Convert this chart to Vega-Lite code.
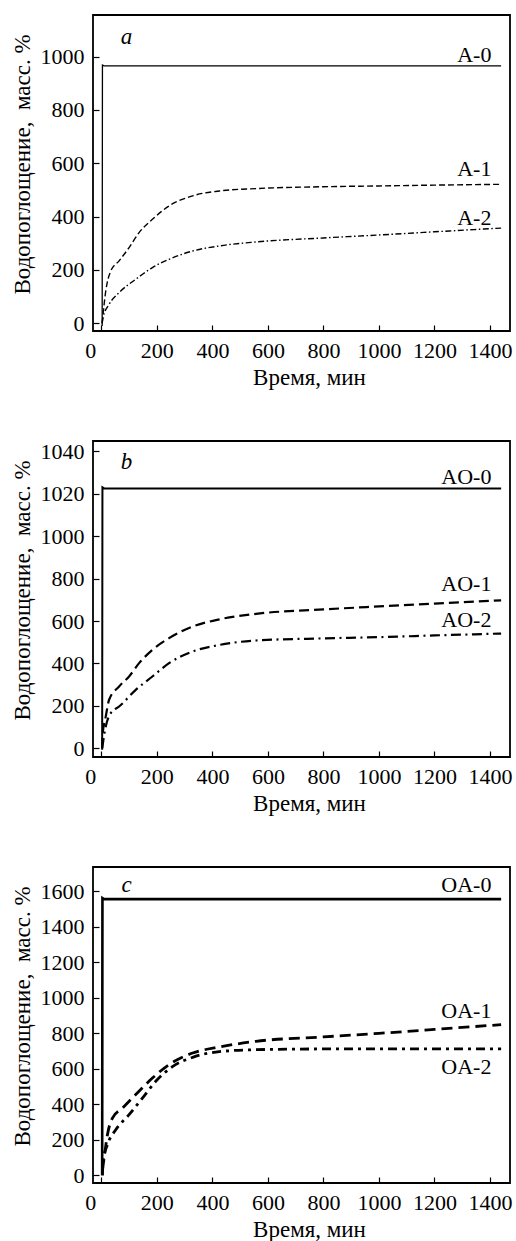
{
  "$schema": "https://vega.github.io/schema/vega-lite/v6.json",
  "background": "white",
  "padding": {"left": 10, "top": 14, "right": 5, "bottom": 5},
  "spacing": 110,
  "bounds": "flush",
  "config": {
    "font": "Liberation Serif",
    "view": {"stroke": "black", "strokeWidth": 1.8},
    "axis": {
      "labelFont": "Liberation Serif", "labelFontSize": 22, "labelColor": "black",
      "titleFont": "Liberation Serif", "titleFontSize": 23, "titleFontWeight": "normal", "titleColor": "black",
      "domain": false, "grid": false, "tickColor": "black", "tickSize": -6, "tickWidth": 1.2, "format": "d"
    },
    "axisX": {"labelPadding": 15, "titleX": 216, "titleY": 46, "titleBaseline": "middle"},
    "axisY": {"labelPadding": 15, "titleX": -70.6, "titleY": 149, "titleBaseline": "middle"},
    "text": {"font": "Liberation Serif", "fontSize": 22, "color": "black"},
    "line": {"color": "black"}
  },
  "datasets": {
    "curves": [
      {"p": "a", "s": "A-0", "t": 3, "v": -10}, {"p": "a", "s": "A-0", "t": 4, "v": 968}, {"p": "a", "s": "A-0", "t": 10, "v": 965}, {"p": "a", "s": "A-0", "t": 1440, "v": 965},
      {"p": "a", "s": "A-1", "t": 3, "v": 0}, {"p": "a", "s": "A-1", "t": 16, "v": 121}, {"p": "a", "s": "A-1", "t": 34, "v": 196}, {"p": "a", "s": "A-1", "t": 64, "v": 234}, {"p": "a", "s": "A-1", "t": 100, "v": 284}, {"p": "a", "s": "A-1", "t": 136, "v": 340}, {"p": "a", "s": "A-1", "t": 184, "v": 390}, {"p": "a", "s": "A-1", "t": 244, "v": 440}, {"p": "a", "s": "A-1", "t": 329, "v": 478}, {"p": "a", "s": "A-1", "t": 425, "v": 496}, {"p": "a", "s": "A-1", "t": 557, "v": 505}, {"p": "a", "s": "A-1", "t": 800, "v": 512}, {"p": "a", "s": "A-1", "t": 1000, "v": 515}, {"p": "a", "s": "A-1", "t": 1200, "v": 518}, {"p": "a", "s": "A-1", "t": 1440, "v": 521},
      {"p": "a", "s": "A-2", "t": 3, "v": 0}, {"p": "a", "s": "A-2", "t": 6, "v": 21}, {"p": "a", "s": "A-2", "t": 28, "v": 71}, {"p": "a", "s": "A-2", "t": 64, "v": 115}, {"p": "a", "s": "A-2", "t": 124, "v": 165}, {"p": "a", "s": "A-2", "t": 184, "v": 209}, {"p": "a", "s": "A-2", "t": 244, "v": 240}, {"p": "a", "s": "A-2", "t": 329, "v": 271}, {"p": "a", "s": "A-2", "t": 425, "v": 290}, {"p": "a", "s": "A-2", "t": 557, "v": 305}, {"p": "a", "s": "A-2", "t": 800, "v": 320}, {"p": "a", "s": "A-2", "t": 1000, "v": 331}, {"p": "a", "s": "A-2", "t": 1200, "v": 343}, {"p": "a", "s": "A-2", "t": 1440, "v": 357},
      {"p": "b", "s": "AO-0", "t": 3, "v": -8}, {"p": "b", "s": "AO-0", "t": 4, "v": 1023}, {"p": "b", "s": "AO-0", "t": 10, "v": 1022.5}, {"p": "b", "s": "AO-0", "t": 1440, "v": 1022.5},
      {"p": "b", "s": "AO-1", "t": 3, "v": 0}, {"p": "b", "s": "AO-1", "t": 4, "v": 55}, {"p": "b", "s": "AO-1", "t": 16, "v": 149}, {"p": "b", "s": "AO-1", "t": 28, "v": 228}, {"p": "b", "s": "AO-1", "t": 64, "v": 291}, {"p": "b", "s": "AO-1", "t": 100, "v": 338}, {"p": "b", "s": "AO-1", "t": 136, "v": 401}, {"p": "b", "s": "AO-1", "t": 184, "v": 464}, {"p": "b", "s": "AO-1", "t": 244, "v": 519}, {"p": "b", "s": "AO-1", "t": 329, "v": 574}, {"p": "b", "s": "AO-1", "t": 425, "v": 608}, {"p": "b", "s": "AO-1", "t": 557, "v": 634}, {"p": "b", "s": "AO-1", "t": 800, "v": 655}, {"p": "b", "s": "AO-1", "t": 1000, "v": 669}, {"p": "b", "s": "AO-1", "t": 1200, "v": 682}, {"p": "b", "s": "AO-1", "t": 1440, "v": 698},
      {"p": "b", "s": "AO-2", "t": 3, "v": 0}, {"p": "b", "s": "AO-2", "t": 16, "v": 102}, {"p": "b", "s": "AO-2", "t": 34, "v": 165}, {"p": "b", "s": "AO-2", "t": 64, "v": 196}, {"p": "b", "s": "AO-2", "t": 124, "v": 275}, {"p": "b", "s": "AO-2", "t": 184, "v": 338}, {"p": "b", "s": "AO-2", "t": 244, "v": 401}, {"p": "b", "s": "AO-2", "t": 329, "v": 456}, {"p": "b", "s": "AO-2", "t": 425, "v": 487}, {"p": "b", "s": "AO-2", "t": 557, "v": 508}, {"p": "b", "s": "AO-2", "t": 800, "v": 518}, {"p": "b", "s": "AO-2", "t": 1000, "v": 524}, {"p": "b", "s": "AO-2", "t": 1200, "v": 532}, {"p": "b", "s": "AO-2", "t": 1440, "v": 541},
      {"p": "c", "s": "OA-0", "t": 3, "v": 0}, {"p": "c", "s": "OA-0", "t": 4, "v": 1562}, {"p": "c", "s": "OA-0", "t": 10, "v": 1556}, {"p": "c", "s": "OA-0", "t": 1440, "v": 1556},
      {"p": "c", "s": "OA-1", "t": 4, "v": 30}, {"p": "c", "s": "OA-1", "t": 10, "v": 97}, {"p": "c", "s": "OA-1", "t": 22, "v": 229}, {"p": "c", "s": "OA-1", "t": 40, "v": 323}, {"p": "c", "s": "OA-1", "t": 76, "v": 379}, {"p": "c", "s": "OA-1", "t": 124, "v": 455}, {"p": "c", "s": "OA-1", "t": 184, "v": 548}, {"p": "c", "s": "OA-1", "t": 244, "v": 624}, {"p": "c", "s": "OA-1", "t": 329, "v": 689}, {"p": "c", "s": "OA-1", "t": 425, "v": 723}, {"p": "c", "s": "OA-1", "t": 557, "v": 755}, {"p": "c", "s": "OA-1", "t": 800, "v": 780}, {"p": "c", "s": "OA-1", "t": 1000, "v": 800}, {"p": "c", "s": "OA-1", "t": 1200, "v": 822}, {"p": "c", "s": "OA-1", "t": 1440, "v": 849},
      {"p": "c", "s": "OA-2", "t": 4, "v": 0}, {"p": "c", "s": "OA-2", "t": 6, "v": 79}, {"p": "c", "s": "OA-2", "t": 22, "v": 173}, {"p": "c", "s": "OA-2", "t": 52, "v": 257}, {"p": "c", "s": "OA-2", "t": 100, "v": 342}, {"p": "c", "s": "OA-2", "t": 148, "v": 435}, {"p": "c", "s": "OA-2", "t": 196, "v": 530}, {"p": "c", "s": "OA-2", "t": 256, "v": 612}, {"p": "c", "s": "OA-2", "t": 329, "v": 665}, {"p": "c", "s": "OA-2", "t": 425, "v": 697}, {"p": "c", "s": "OA-2", "t": 557, "v": 708}, {"p": "c", "s": "OA-2", "t": 800, "v": 712}, {"p": "c", "s": "OA-2", "t": 1000, "v": 712}, {"p": "c", "s": "OA-2", "t": 1200, "v": 712}, {"p": "c", "s": "OA-2", "t": 1440, "v": 713}
    ],
    "labels": [
      {"p": "a", "label": "A-0", "t": 1405, "v": 1005}, {"p": "a", "label": "A-1", "t": 1405, "v": 578}, {"p": "a", "label": "A-2", "t": 1405, "v": 396},
      {"p": "b", "label": "AO-0", "t": 1405, "v": 1028}, {"p": "b", "label": "AO-1", "t": 1405, "v": 774}, {"p": "b", "label": "AO-2", "t": 1405, "v": 605},
      {"p": "c", "label": "OA-0", "t": 1405, "v": 1634}, {"p": "c", "label": "OA-1", "t": 1405, "v": 928}, {"p": "c", "label": "OA-2", "t": 1405, "v": 608}
    ],
    "letters": [
      {"p": "a", "letter": "a", "t": 91, "v": 1074},
      {"p": "b", "letter": "b", "t": 91, "v": 1035},
      {"p": "c", "letter": "c", "t": 91, "v": 1638}
    ]
  },
  "resolve": {"scale": {"x": "independent", "y": "independent"}},
  "vconcat": [
    {
      "width": 417, "height": 316,
      "encoding": {
        "x": {"field": "t", "type": "quantitative", "scale": {"domain": [-30, 1472], "nice": false, "zero": false},
              "axis": {"values": [0, 200, 400, 600, 800, 1000, 1200, 1400], "title": "Время, мин",
                       "labelOffset": {"condition": {"test": "datum.value === 0", "value": -11}, "value": 0}}},
        "y": {"field": "v", "type": "quantitative", "scale": {"domain": [-29, 1156], "nice": false, "zero": false},
              "axis": {"values": [0, 200, 400, 600, 800, 1000], "title": "Водопоглощение,\u00a0 масс. %"}}
      },
      "layer": [
        {"data": {"name": "curves"}, "transform": [{"filter": "datum.s === 'A-0'"}], "mark": {"type": "line", "strokeWidth": 1.3}},
        {"data": {"name": "curves"}, "transform": [{"filter": "datum.s === 'A-1'"}], "mark": {"type": "line", "strokeWidth": 1.4, "strokeDash": [6, 3], "interpolate": "monotone"}},
        {"data": {"name": "curves"}, "transform": [{"filter": "datum.s === 'A-2'"}], "mark": {"type": "line", "strokeWidth": 1.4, "strokeDash": [6, 2.5, 1.5, 2.5], "interpolate": "monotone"}},
        {"data": {"name": "labels"}, "transform": [{"filter": "datum.p === 'a'"}], "mark": {"type": "text", "align": "right", "baseline": "middle"}, "encoding": {"text": {"field": "label"}}},
        {"data": {"name": "letters"}, "transform": [{"filter": "datum.p === 'a'"}], "mark": {"type": "text", "align": "center", "baseline": "middle", "fontStyle": "italic", "fontSize": 23}, "encoding": {"text": {"field": "letter"}}}
      ]
    },
    {
      "width": 417, "height": 316,
      "encoding": {
        "x": {"field": "t", "type": "quantitative", "scale": {"domain": [-30, 1472], "nice": false, "zero": false},
              "axis": {"values": [0, 200, 400, 600, 800, 1000, 1200, 1400], "title": "Время, мин",
                       "labelOffset": {"condition": {"test": "datum.value === 0", "value": -11}, "value": 0}}},
        "y": {"field": "v", "type": "quantitative", "scale": {"domain": [-42.5, 1000, 1044.7], "range": [316, 95.4, 0], "nice": false, "zero": false},
              "axis": {"values": [0, 200, 400, 600, 800, 1000, 1020, 1040], "title": "Водопоглощение,\u00a0 масс. %"}}
      },
      "layer": [
        {"data": {"name": "curves"}, "transform": [{"filter": "datum.s === 'AO-0'"}], "mark": {"type": "line", "strokeWidth": 2}},
        {"data": {"name": "curves"}, "transform": [{"filter": "datum.s === 'AO-1'"}], "mark": {"type": "line", "strokeWidth": 2.2, "strokeDash": [10, 5], "interpolate": "monotone"}},
        {"data": {"name": "curves"}, "transform": [{"filter": "datum.s === 'AO-2'"}], "mark": {"type": "line", "strokeWidth": 2.2, "strokeDash": [10, 4.5, 2, 4.5], "interpolate": "monotone"}},
        {"data": {"name": "labels"}, "transform": [{"filter": "datum.p === 'b'"}], "mark": {"type": "text", "align": "right", "baseline": "middle"}, "encoding": {"text": {"field": "label"}}},
        {"data": {"name": "letters"}, "transform": [{"filter": "datum.p === 'b'"}], "mark": {"type": "text", "align": "center", "baseline": "middle", "fontStyle": "italic", "fontSize": 23}, "encoding": {"text": {"field": "letter"}}}
      ]
    },
    {
      "width": 417, "height": 316,
      "encoding": {
        "x": {"field": "t", "type": "quantitative", "scale": {"domain": [-30, 1472], "nice": false, "zero": false},
              "axis": {"values": [0, 200, 400, 600, 800, 1000, 1200, 1400], "title": "Время, мин",
                       "labelOffset": {"condition": {"test": "datum.value === 0", "value": -11}, "value": 0}}},
        "y": {"field": "v", "type": "quantitative", "scale": {"domain": [-43, 1737], "nice": false, "zero": false},
              "axis": {"values": [0, 200, 400, 600, 800, 1000, 1200, 1400, 1600], "title": "Водопоглощение,\u00a0 масс. %"}}
      },
      "layer": [
        {"data": {"name": "curves"}, "transform": [{"filter": "datum.s === 'OA-0'"}], "mark": {"type": "line", "strokeWidth": 2.6}},
        {"data": {"name": "curves"}, "transform": [{"filter": "datum.s === 'OA-1'"}], "mark": {"type": "line", "strokeWidth": 2.8, "strokeDash": [11, 6], "interpolate": "monotone"}},
        {"data": {"name": "curves"}, "transform": [{"filter": "datum.s === 'OA-2'"}], "mark": {"type": "line", "strokeWidth": 2.8, "strokeDash": [9, 5, 3, 5], "interpolate": "monotone"}},
        {"data": {"name": "labels"}, "transform": [{"filter": "datum.p === 'c'"}], "mark": {"type": "text", "align": "right", "baseline": "middle"}, "encoding": {"text": {"field": "label"}}},
        {"data": {"name": "letters"}, "transform": [{"filter": "datum.p === 'c'"}], "mark": {"type": "text", "align": "center", "baseline": "middle", "fontStyle": "italic", "fontSize": 23}, "encoding": {"text": {"field": "letter"}}}
      ]
    }
  ]
}
